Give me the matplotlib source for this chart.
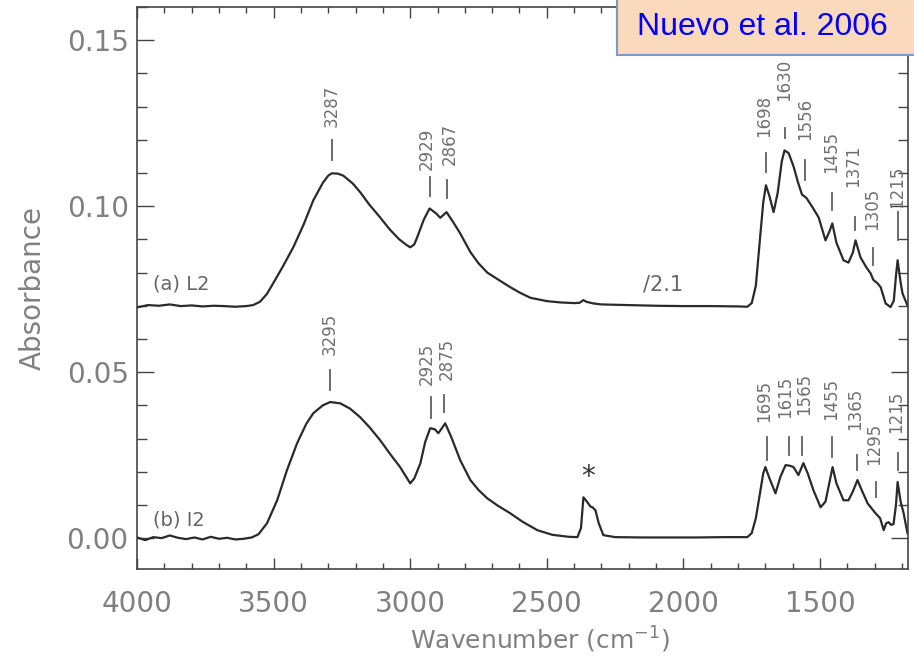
import numpy as np
import matplotlib
matplotlib.use("Agg")
import matplotlib.pyplot as plt
from matplotlib.patches import Rectangle
from matplotlib.ticker import MultipleLocator

# espectro (a) L2, dividido por 2.1
wn_a = [4000, 3960, 3920, 3880, 3840, 3800, 3760, 3720, 3680, 3640, 3600, 3575,
        3550, 3525, 3502, 3465, 3428, 3390, 3355, 3320, 3300, 3287, 3265, 3245, 3210, 3183,
        3150, 3110, 3075, 3040, 3015, 3000, 2985, 2975, 2950, 2929, 2905, 2890, 2867, 2845,
        2817, 2780, 2750, 2718, 2680, 2634, 2600, 2560, 2500, 2450, 2400, 2380,
        2366, 2355, 2330, 2300, 2200, 2100, 2000, 1900, 1800, 1766, 1750, 1735,
        1718, 1708, 1698, 1685, 1670, 1655, 1640, 1630, 1615, 1597, 1580, 1566,
        1550, 1527, 1505, 1480, 1465, 1455, 1440, 1414, 1396, 1380, 1370, 1352,
        1330, 1315, 1305, 1290, 1278, 1260, 1242, 1230, 1222, 1216, 1205, 1198, 1180]
abs_a = [0.0695, 0.0702, 0.0700, 0.0704, 0.0699, 0.0701, 0.0698, 0.0700, 0.0699, 0.0697, 0.0699, 0.0702,
         0.0712, 0.0735, 0.0767, 0.0820, 0.0876, 0.0945, 0.1017, 0.1070, 0.1092, 0.1099, 0.1098, 0.1092, 0.1068, 0.1042,
         0.1005, 0.0966, 0.0930, 0.0900, 0.0884, 0.0876, 0.0885, 0.0905, 0.0960, 0.0993, 0.0978, 0.0965, 0.0982, 0.0955,
         0.0918, 0.0862, 0.0828, 0.0800, 0.0780, 0.0756, 0.0740, 0.0724, 0.0714, 0.0710, 0.0708, 0.0709,
         0.0717, 0.0712, 0.0707, 0.0704, 0.0702, 0.0700, 0.0699, 0.0699, 0.0698, 0.0697, 0.0708, 0.0760,
         0.0918, 0.1010, 0.1063, 0.1030, 0.0982, 0.1040, 0.1135, 0.1168, 0.1160, 0.1120, 0.1070, 0.1035,
         0.1025, 0.0996, 0.0966, 0.0897, 0.0925, 0.0948, 0.0890, 0.0837, 0.0830, 0.0860, 0.0897, 0.0846,
         0.0815, 0.0798, 0.0778, 0.0768, 0.0756, 0.0707, 0.0696, 0.0715, 0.0790, 0.0837, 0.0770, 0.0737, 0.0701]

# espectro (b) I2
wn_b = [4000, 3970, 3940, 3910, 3880, 3850, 3820, 3790, 3760, 3730, 3700, 3670,
        3640, 3610, 3580, 3555, 3524, 3487, 3451, 3414, 3380, 3355, 3320, 3293,
        3256, 3220, 3183, 3150, 3110, 3075, 3037, 3015, 3000, 2985, 2963, 2945,
        2927, 2910, 2897, 2885, 2872, 2850, 2817, 2780, 2750, 2718, 2680, 2634,
        2590, 2535, 2480, 2420, 2388, 2375, 2366, 2355, 2340, 2333, 2322, 2310,
        2293, 2250, 2150, 2050, 1950, 1850, 1766, 1750, 1735, 1718, 1708, 1700,
        1685, 1663, 1645, 1626, 1610, 1597, 1579, 1561, 1545, 1524, 1498, 1480,
        1465, 1454, 1440, 1414, 1396, 1380, 1363, 1345, 1326, 1297, 1280, 1267,
        1258, 1249, 1240, 1231, 1222, 1216, 1205, 1194, 1180]
abs_b = [0.0002, -0.0006, 0.0003, 0.0000, 0.0008, 0.0001, -0.0003, 0.0002, -0.0004, 0.0004, -0.0002, 0.0001,
         -0.0004, -0.0002, 0.0002, 0.0012, 0.0045, 0.0114, 0.0205, 0.0286, 0.0345, 0.0376, 0.0400, 0.0410,
         0.0406, 0.0390, 0.0364, 0.0335, 0.0295, 0.0255, 0.0214, 0.0185, 0.0165, 0.0180, 0.0225, 0.0290,
         0.0331, 0.0328, 0.0316, 0.0330, 0.0346, 0.0305, 0.0235, 0.0175, 0.0145, 0.0120, 0.0098, 0.0075,
         0.0050, 0.0024, 0.0010, 0.0004, 0.0003, 0.0030, 0.0123, 0.0112, 0.0095, 0.0093, 0.0084, 0.0045,
         0.0009, 0.0003, 0.0002, 0.0002, 0.0002, 0.0003, 0.0003, 0.0015, 0.0060, 0.0144, 0.0195, 0.0214,
         0.0180, 0.0135, 0.0185, 0.0220, 0.0218, 0.0214, 0.0190, 0.0226, 0.0195, 0.0144, 0.0093, 0.0110,
         0.0170, 0.0214, 0.0165, 0.0114, 0.0114, 0.0140, 0.0175, 0.0140, 0.0105, 0.0075, 0.0060, 0.0024,
         0.0045, 0.0048, 0.0040, 0.0042, 0.0100, 0.0169, 0.0110, 0.0075, 0.0015]

# etiquetas de picos: texto, posicion de la marca y de la etiqueta (numero de onda)
picos_a = ["3287", "2929", "2867", "1698", "1630", "1556", "1455", "1371", "1305", "1215"]
wn_picos_a = [3287, 2929, 2867, 1698, 1630, 1556, 1455, 1371, 1305, 1215]
wn_etiq_a = [3287, 2941, 2856, 1703, 1632, 1556, 1460, 1378, 1310, 1218]
picos_b = ["3295", "2925", "2875", "1695", "1615", "1565", "1455", "1365", "1295", "1215"]
wn_picos_b = [3295, 2925, 2875, 1695, 1615, 1565, 1455, 1365, 1295, 1215]
wn_etiq_b = [3295, 2938, 2865, 1703, 1629, 1557, 1458, 1372, 1303, 1222]

# posicion vertical de las marcas (abajo, arriba) y de la etiqueta
marca_a = [(0.1138, 0.1198, 0.1237), (0.1032, 0.1087, 0.1108), (0.1026, 0.1078, 0.1123),
           (0.1102, 0.1159, 0.1207), (0.1204, 0.1234, 0.1318), (0.1078, 0.1138, 0.1198),
           (0.0987, 0.1041, 0.1099), (0.0927, 0.0966, 0.1057), (0.0822, 0.0873, 0.0927),
           (0.0897, 0.0981, 0.0996)]
marca_b = [(0.0445, 0.0506, 0.0551), (0.0361, 0.0424, 0.0461), (0.0379, 0.0430, 0.0476),
           (0.0235, 0.0304, 0.0349), (0.0250, 0.0304, 0.0361), (0.0250, 0.0304, 0.0370),
           (0.0244, 0.0304, 0.0355), (0.0205, 0.0250, 0.0325), (0.0123, 0.0169, 0.0220),
           (0.0205, 0.0256, 0.0316)]

gris = "#808080"
fig = plt.figure(figsize=(9.14, 6.58), dpi=100)
ax = fig.add_axes([137 / 914, 89 / 658, 771 / 914, 562 / 658])

ax.plot(wn_a, abs_a, color="#2a2a2a", lw=1.6)
ax.plot(wn_b, abs_b, color="#2a2a2a", lw=1.6)

for picos, wns, wet, marcas in [(picos_a, wn_picos_a, wn_etiq_a, marca_a),
                                (picos_b, wn_picos_b, wn_etiq_b, marca_b)]:
    for txt, w, we, (y0, y1, yl) in zip(picos, wns, wet, marcas):
        ax.plot([w, w], [y0, y1], color="#606060", lw=1.3)
        ax.text(we, yl, txt, rotation=90, ha="center", va="bottom",
                fontsize=12, color="#707070")

ax.text(3941, 0.0767, "(a) L2", fontsize=14, color="#666666", va="center")
ax.text(3941, 0.0055, "(b) I2", fontsize=14, color="#666666", va="center")
ax.text(2147, 0.0765, "/2.1", fontsize=15, color="#666666", va="center")
ax.text(2348, 0.0185, "*", fontsize=20, color="#333333", ha="center", va="center")

ax.set_xlim(4000, 1178)
ax.set_ylim(-0.0093, 0.160)
ax.xaxis.set_major_locator(MultipleLocator(500))
ax.xaxis.set_minor_locator(MultipleLocator(100))
ax.yaxis.set_major_locator(MultipleLocator(0.05))
ax.yaxis.set_minor_locator(MultipleLocator(0.01))
ax.yaxis.set_major_formatter(plt.FormatStrFormatter("%.2f"))

ax.tick_params(axis="x", which="major", direction="in", length=8, width=1,
               top=True, bottom=True, pad=15, labelsize=20, labelcolor=gris, color="#444444")
ax.tick_params(axis="x", which="minor", direction="in", length=4.5, width=1,
               top=True, bottom=True, color="#444444")
ax.tick_params(axis="y", which="major", direction="in", length=12.5, width=1,
               left=True, right=True, pad=6, labelsize=20, labelcolor=gris, color="#444444")
ax.tick_params(axis="y", which="minor", direction="in", length=7, width=1,
               left=True, right=True, color="#444444")
for s in ax.spines.values():
    s.set_color("#444444")
    s.set_linewidth(1.2)

ax.set_xlabel(r"Wavenumber (cm$^{-1}$)", fontsize=18, color=gris)
ax.xaxis.set_label_coords(0.523, -0.0996)
ax.set_ylabel("Absorbance", fontsize=20, color=gris, labelpad=14)

# recuadro de la referencia
caja = Rectangle((617 / 914, 603 / 658), 0.5, 0.5, transform=fig.transFigure,
                 facecolor="#fad9bd", edgecolor="#7c9ac6", lw=1.5, zorder=5, clip_on=False)
fig.patches.append(caja)
fig.text(762 / 914, 1 - 27 / 658, "Nuevo et al. 2006", fontsize=23, color="#0000ff",
         family="Liberation Sans", ha="center", va="center", zorder=6)

fig.savefig("out.png", dpi=100)
